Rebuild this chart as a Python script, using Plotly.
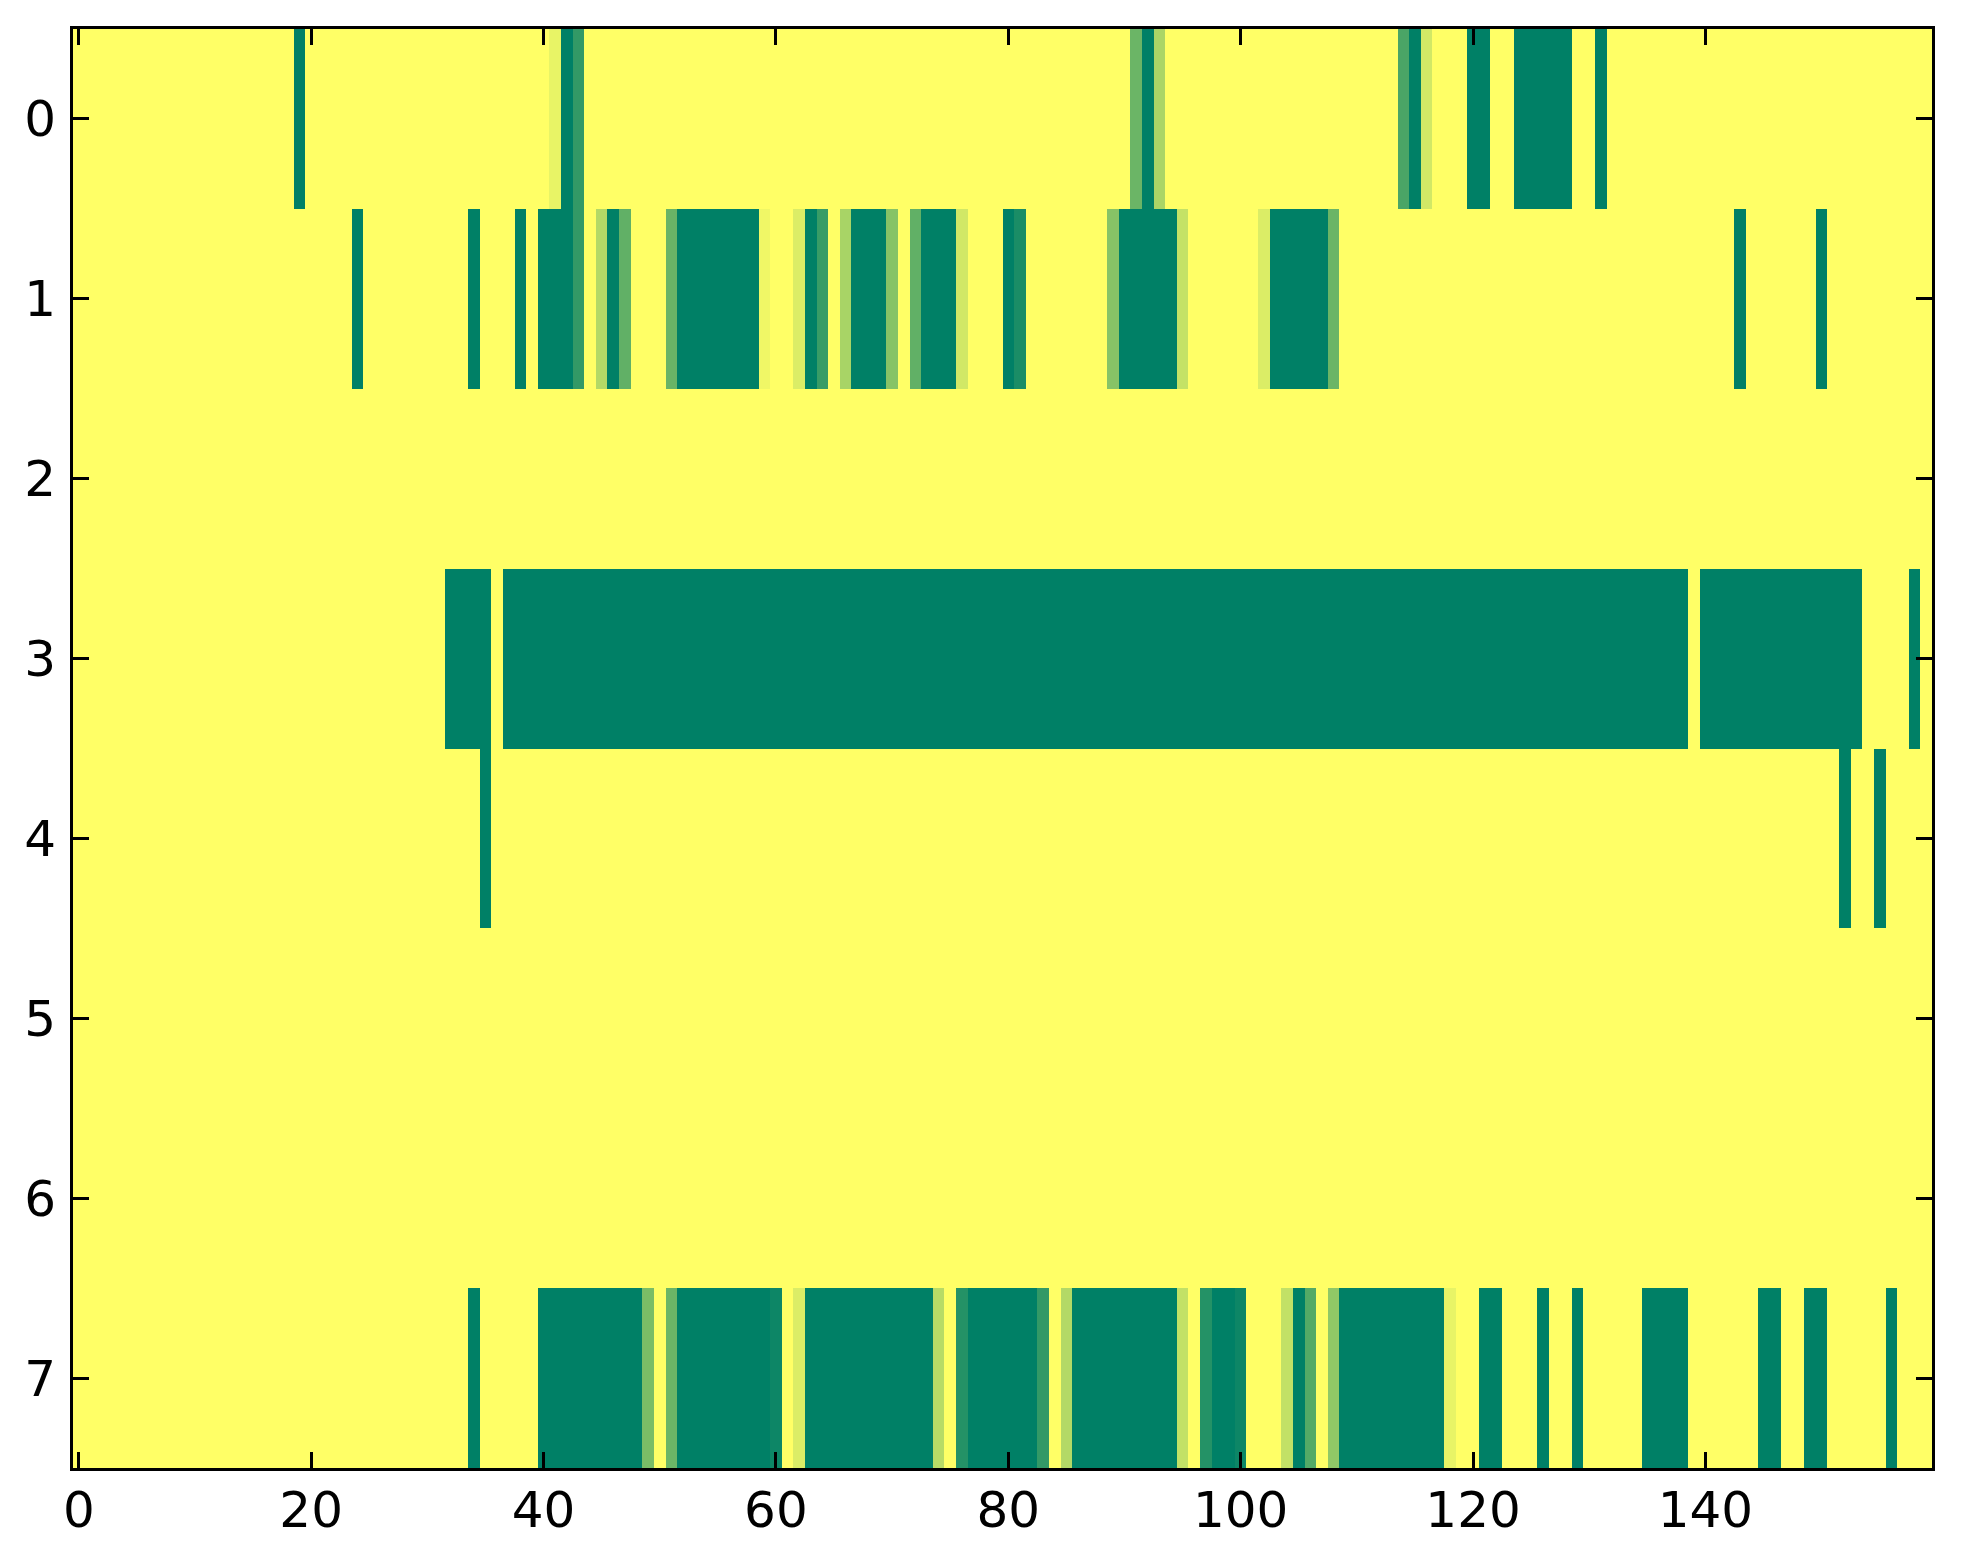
import numpy as np
import plotly.graph_objects as go

n_rows = 8
n_cols = 160

# runs of non-background cells per row: (first column, last column, value)
# background value is 1.0 (yellow end of the summer colormap)
row0_runs = [(19, 19, 0.0), (41, 41, 0.91), (42, 42, 0.0), (43, 43, 0.2),
             (91, 91, 0.42), (92, 92, 0.0), (93, 93, 0.67),
             (114, 114, 0.29), (115, 115, 0.0), (116, 116, 0.82),
             (120, 121, 0.0), (124, 128, 0.0), (131, 131, 0.0)]
row1_runs = [(24, 24, 0.0), (34, 34, 0.0), (38, 38, 0.0), (40, 42, 0.0),
             (43, 43, 0.2), (45, 45, 0.7), (46, 46, 0.0), (47, 47, 0.38),
             (51, 51, 0.41), (52, 58, 0.0), (59, 59, 0.94), (62, 62, 0.86),
             (63, 63, 0.0), (64, 64, 0.22), (66, 66, 0.66), (67, 69, 0.0),
             (70, 70, 0.53), (72, 72, 0.38), (73, 75, 0.0), (76, 76, 0.82),
             (80, 80, 0.0), (81, 81, 0.1), (89, 89, 0.53), (90, 94, 0.0),
             (95, 95, 0.77), (102, 102, 0.86), (103, 107, 0.0),
             (108, 108, 0.42), (143, 143, 0.0), (150, 150, 0.0)]
row2_runs = []
row3_runs = [(32, 35, 0.0), (37, 138, 0.0), (140, 153, 0.0), (158, 158, 0.0)]
row4_runs = [(35, 35, 0.0), (152, 152, 0.0), (155, 155, 0.0)]
row5_runs = []
row6_runs = []
row7_runs = [(34, 34, 0.0), (40, 48, 0.0), (49, 49, 0.48), (51, 51, 0.42),
             (52, 59, 0.0), (60, 60, 0.05), (62, 62, 0.86), (63, 73, 0.0),
             (74, 74, 0.72), (76, 76, 0.14), (77, 82, 0.0), (83, 83, 0.2),
             (85, 85, 0.7), (86, 94, 0.0), (95, 95, 0.76), (97, 97, 0.14),
             (98, 99, 0.0), (100, 100, 0.05), (104, 104, 0.76), (105, 105, 0.0),
             (106, 106, 0.33), (108, 108, 0.57), (109, 117, 0.0),
             (118, 118, 0.91), (121, 122, 0.0), (126, 126, 0.0), (129, 129, 0.0),
             (135, 138, 0.0), (145, 146, 0.0), (149, 150, 0.0), (156, 156, 0.0)]

all_runs = [row0_runs, row1_runs, row2_runs, row3_runs,
            row4_runs, row5_runs, row6_runs, row7_runs]

x_ticks = [0, 20, 40, 60, 80, 100, 120, 140]
y_ticks = [0, 1, 2, 3, 4, 5, 6, 7]

z = np.ones((n_rows, n_cols))
for r, runs in enumerate(all_runs):
    for a, b, v in runs:
        z[r, a:b + 1] = v

# matplotlib "summer": green -> yellow, linear in rgb
summer = [[0.0, "rgb(0,128,102)"], [1.0, "rgb(255,255,102)"]]

fig = go.Figure(go.Heatmap(
    z=z, x=list(range(n_cols)), y=list(range(n_rows)),
    colorscale=summer, zmin=0, zmax=1, showscale=False, zsmooth=False,
    hoverinfo="skip",
))

axis_common = dict(
    showline=True, linecolor="black", linewidth=3, mirror="ticks",
    ticks="inside", ticklen=16, tickwidth=3, tickcolor="black",
    showgrid=False, zeroline=False,
    tickfont=dict(family="DejaVu Sans", size=50, color="black"),
)

# page body has an 8px default margin, so the figure is 16px smaller
fig.update_layout(
    width=1947, height=1548,
    margin=dict(l=65, r=23, t=21, b=88),
    paper_bgcolor="white", plot_bgcolor="white",
    xaxis=dict(range=[-0.5, n_cols - 0.5], tickvals=x_ticks,
               ticklabelstandoff=-4, **axis_common),
    yaxis=dict(range=[n_rows - 0.5, -0.5], tickvals=y_ticks,
               ticklabelstandoff=4, **axis_common),
)

fig.write_html("out.html")
